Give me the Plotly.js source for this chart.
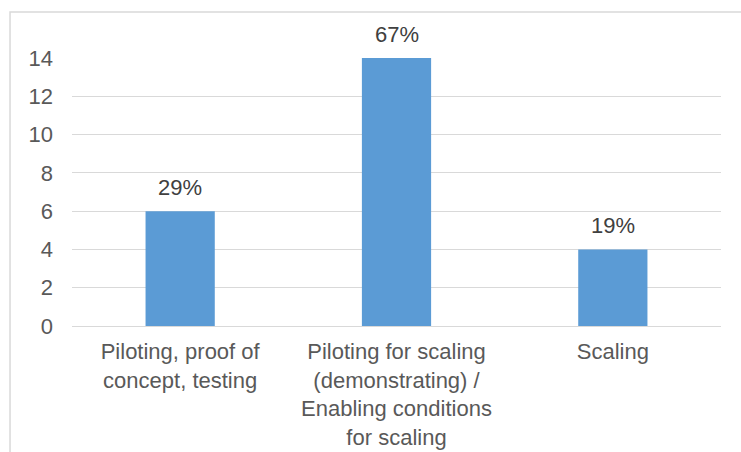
<!DOCTYPE html>
<html>
<head>
<meta charset="utf-8">
<script src="https://cdn.plot.ly/plotly-3.0.1.min.js"></script>
<style>
html,body{margin:0;padding:0;background:#fff;}
#chart{width:741px;height:452px;}
</style>
</head>
<body>
<div id="chart"></div>
<script>
const categories = [
  "Piloting, proof of<br>concept, testing",
  "Piloting for scaling<br>(demonstrating) /<br>Enabling conditions<br>for scaling",
  "Scaling"
];
const counts = [6, 14, 4];
const percentLabels = ["29%", "67%", "19%"];
const yTicks = [0, 2, 4, 6, 8, 10, 12, 14];

const font = {family: "Liberation Sans, Arial, sans-serif", size: 22, color: "#595959"};

const labelAnnotations = categories.map((c, i) => ({
  x: c, y: counts[i], xref: "x", yref: "y",
  text: percentLabels[i],
  showarrow: false,
  yanchor: "bottom",
  yshift: 9,
  font: {family: font.family, size: 22, color: "#404040"}
}));

Plotly.newPlot("chart", [{
  type: "bar",
  x: categories,
  y: counts,
  marker: {color: "#5B9BD5"},
  hoverinfo: "none"
}], {
  width: 741, height: 452,
  margin: {l: 72, r: 20, t: 58, b: 126},
  paper_bgcolor: "#fff", plot_bgcolor: "#fff",
  font: font,
  bargap: 0.68,
  showlegend: false,
  annotations: labelAnnotations,
  xaxis: {
    type: "category",
    tickfont: font,
    showgrid: false,
    showline: false,
    ticks: "",
    ticklabelstandoff: 10,
    fixedrange: true
  },
  yaxis: {
    range: [0, 14],
    tickvals: yTicks,
    ticktext: yTicks.map(String),
    tickfont: font,
    showgrid: true,
    gridcolor: "#d9d9d9",
    gridwidth: 1,
    zeroline: true,
    zerolinecolor: "#d9d9d9",
    zerolinewidth: 1,
    showline: false,
    ticks: "",
    ticklabelstandoff: 18,
    fixedrange: true
  },
  shapes: [{
    type: "rect", xref: "paper", yref: "paper",
    x0: -0.0955, x1: 1.04, y0: -0.6, y1: 1.1716,
    line: {color: "#d9d9d9", width: 1.5},
    fillcolor: "rgba(0,0,0,0)",
    layer: "below"
  }]
}, {displayModeBar: false, staticPlot: true});
</script>
</body>
</html>
